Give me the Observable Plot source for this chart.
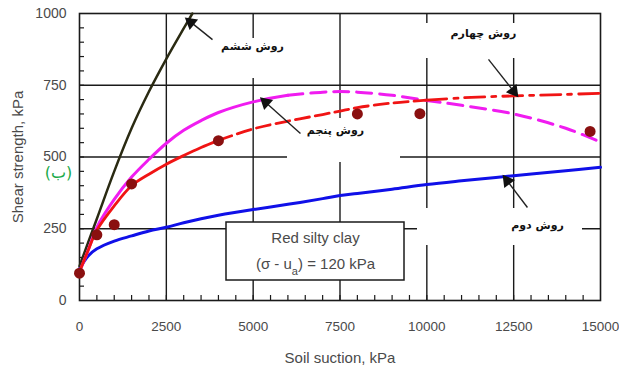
<!DOCTYPE html>
<html><head><meta charset="utf-8">
<script src="https://cdn.jsdelivr.net/npm/d3@7"></script>
<script src="https://cdn.jsdelivr.net/npm/@observablehq/plot@0.6"></script>
<style>body{margin:0;background:#fff}</style>
</head><body><div id="chart"></div>
<script>
// ---- data ----
const suction = [0,250,500,1000,1500,2000,2500,3000,3500,4000,5000,6000,7000,7500,8000,9000,10000,11000,12500,14000,15000];
const method2 = [110,155,180,207,225,242,255,271,285,297,317,335,355,366,373,388,404,417,435,452,464];      // blue
const method4 = [100,175,245,330,400,440,475,505,533,558,598,625,648,660,672,688,698,706,713,718,722];      // red
const method5 = [100,175,255,352,430,492,548,593,627,655,692,715,726,728,726,715,697,680,650,600,552];      // magenta
const method6Suction = [0,500,1000,1500,2000,2500,3000,3250];
const method6 = [120,285,450,600,728,842,948,1000];                                                         // black
const measuredSuction = [0,500,1000,1500,4000,8000,9800,14700];
const measuredStrength = [95,229,264,406,557,650,651,589];
const xTicks = [0,2500,5000,7500,10000,12500,15000];
const yTicks = [0,250,500,750,1000];
const gridX = [2500,5000,7500,10000,12500];
const gridY = [250,500,750];
const methodNames = ["روش ششم","روش چهارم","روش پنجم","روش دوم"];
const boxLines = ["Red silty clay","(σ - u_a) = 120 kPa"];

// ---- layout ----
const W = 619, H = 373, mL = 79, mR = 19, mT = 13, mB = 73;
const pw = W - mL - mR, ph = H - mT - mB;
const px = x => mL + x / 15000 * pw, py = y => mT + (1 - y / 1000) * ph;
const ix = p => (p - mL) / pw * 15000, iy = p => (1 - (p - mT) / ph) * 1000;

const rows = suction.map((s, i) => ({s, b: method2[i], r: method4[i], m: method5[i]}));
const black = method6Suction.map((s, i) => ({s, v: method6[i]}));
const pts = measuredSuction.map((s, i) => ({s, v: measuredStrength[i]}));

// annotation placement (data units)
const notes = [
  {name: methodNames[0], tx: 4981, ty: 885, x1: 3830, y1: 909, x2: 3138, y2: 976},
  {name: methodNames[1], tx: 11631, ty: 930, x1: 11775, y1: 840, x2: 12552, y2: 721},
  {name: methodNames[2], tx: 7370, ty: 592, x1: 6362, y1: 582, x2: 5297, y2: 697},
  {name: methodNames[3], tx: 13186, ty: 261, x1: 12897, y1: 324, x2: 12264, y2: 425}
];
const heads = notes.map(n => {
  const dx = px(n.x2) - px(n.x1), dy = py(n.y2) - py(n.y1);
  const L = Math.hypot(dx, dy), ux = dx / L, uy = dy / L;
  return {x: ix(px(n.x2) - 3 * ux), y: iy(py(n.y2) - 3 * uy), a: Math.atan2(dx, -dy) * 180 / Math.PI};
});
const masks = [
  {x1: ix(215), x2: ix(292), y1: iy(38), y2: iy(78)},
  {x1: ix(415), x2: ix(565), y1: iy(23), y2: iy(58)},
  {x1: ix(287), x2: ix(400), y1: iy(118), y2: iy(162)},
  {x1: ix(417), x2: ix(582), y1: iy(208), y2: iy(245)}
];
const box = [{x1: ix(226), x2: ix(404), y1: iy(222), y2: iy(280)}];

const font = "Liberation Sans, Arial, sans-serif";
const grey = "#4a4a4a";
const smooth = "catmull-rom";

const chart = Plot.plot({
  width: W, height: H,
  marginLeft: mL, marginRight: mR, marginTop: mT, marginBottom: mB,
  x: {domain: [0, 15000]},
  y: {domain: [0, 1000]},
  style: {fontFamily: font, background: "#fff"},
  marks: [
    Plot.ruleX(gridX, {stroke: "#1a1a1a", strokeWidth: 1.4}),
    Plot.ruleY(gridY, {stroke: "#1a1a1a", strokeWidth: 1.4}),
    Plot.rect(masks, {x1: "x1", x2: "x2", y1: "y1", y2: "y2", fill: "white"}),
    Plot.ruleY(d3.range(50, 1000, 50), {x1: 0, x2: ix(mL + 5), stroke: "#1a1a1a", strokeWidth: 1.2}),
    Plot.ruleX(d3.range(500, 15000, 500), {y1: 0, y2: iy(mT + ph - 5), stroke: "#1a1a1a", strokeWidth: 1.2}),
    Plot.frame({stroke: "#1a1a1a", strokeWidth: 1.6}),
    Plot.axisX({ticks: xTicks, tickFormat: d3.format("d"), tickSize: 0, tickPadding: 21, fontSize: 13.5, fill: grey, label: null}),
    Plot.axisY({ticks: yTicks, tickFormat: d3.format("d"), tickSize: 0, tickPadding: 13, fontSize: 14, fill: grey, label: null}),
    Plot.text(["Soil suction, kPa"], {frameAnchor: "bottom", dy: 58, lineAnchor: "middle", textAnchor: "middle", fontSize: 15, fill: grey}),
    Plot.text(["Shear strength, kPa"], {frameAnchor: "left", dx: -61, rotate: -90, textAnchor: "middle", lineAnchor: "middle", fontSize: 15, fill: grey}),
    Plot.text(["\u200E(ب)\u200E"], {frameAnchor: "left", dx: -21, dy: 16, textAnchor: "middle", lineAnchor: "middle", fontSize: 16, fill: "#1aaa4a", fontFamily: "DejaVu Sans"}),
    // curves
    Plot.line(rows, {x: "s", y: "b", stroke: "#1010e8", strokeWidth: 3, curve: smooth}),
    Plot.line(black, {x: "s", y: "v", stroke: "#2a2a12", strokeWidth: 2.5, curve: smooth}),
    Plot.line(rows.filter(d => d.s <= 6000), {x: "s", y: "m", stroke: "#f01cf0", strokeWidth: 3, curve: smooth}),
    Plot.line(rows.filter(d => d.s >= 6000), {x: "s", y: "m", stroke: "#f01cf0", strokeWidth: 3, strokeDasharray: "15,8", curve: smooth}),
    Plot.line(rows.filter(d => d.s <= 4000), {x: "s", y: "r", stroke: "#f01414", strokeWidth: 2.8, curve: smooth}),
    Plot.line(rows.filter(d => d.s >= 4000 && d.s <= 10000), {x: "s", y: "r", stroke: "#f01414", strokeWidth: 2.8, strokeDasharray: "14,6", curve: smooth}),
    Plot.line(rows.filter(d => d.s >= 10000), {x: "s", y: "r", stroke: "#f01414", strokeWidth: 2.8, strokeDasharray: "20,7,4,7", curve: smooth}),
    Plot.dot(pts, {x: "s", y: "v", r: 5.5, fill: "#8a1010", stroke: "none"}),
    // info box
    Plot.rect(box, {x1: "x1", x2: "x2", y1: "y1", y2: "y2", fill: "white", stroke: "#1a1a1a", strokeWidth: 1.5}),
    Plot.text([boxLines[0]], {x: ix(315), y: iy(238), fontSize: 15, fill: grey}),
    Plot.text([boxLines[1]], {x: ix(315), y: iy(264), fontSize: 15, fill: grey}),
    // annotations
    Plot.link(notes, {x1: "x1", y1: "y1", x2: "x2", y2: "y2", stroke: "#222", strokeWidth: 1.4}),
    Plot.dot(heads, {x: "x", y: "y", symbol: "triangle", r: 5, rotate: "a", fill: "#111", stroke: "none"}),
    Plot.text(notes, {x: "tx", y: "ty", text: "name", fontSize: 11, fontWeight: "bold", fill: "#111", fontFamily: "DejaVu Sans"})
  ]
});
document.getElementById("chart").appendChild(chart);

// subscript "a" in the box text
d3.select(chart).selectAll("text").filter(function () { return this.textContent === boxLines[1]; })
  .each(function () {
    const t = d3.select(this); t.text(null);
    t.append("tspan").text("(σ - u");
    t.append("tspan").attr("baseline-shift", "sub").attr("font-size", "11").text("a");
    t.append("tspan").text(") = 120 kPa");
  });
</script>
</body></html>
